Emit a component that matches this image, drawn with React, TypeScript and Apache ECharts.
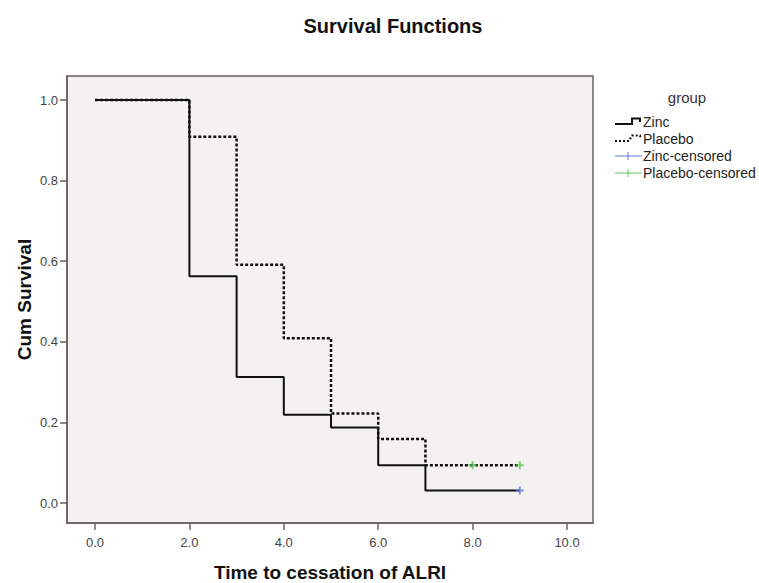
import React, { useEffect, useRef } from 'react';
import * as echarts from 'echarts';

const zincTimes = [0, 2, 3, 4, 5, 6, 7, 9];
const zincSurvival = [1.0, 0.5625, 0.3125, 0.219, 0.1875, 0.094, 0.031, 0.031];
const placeboTimes = [0, 2, 3, 4, 5, 6, 7, 9];
const placeboSurvival = [1.0, 0.909, 0.591, 0.409, 0.222, 0.159, 0.094, 0.094];
const zincCensoredTimes = [9];
const zincCensoredSurvival = [0.031];
const placeboCensoredTimes = [8, 9];
const placeboCensoredSurvival = [0.094, 0.094];
const xTicks = [0, 2, 4, 6, 8, 10];
const yTicks = [0, 0.2, 0.4, 0.6, 0.8, 1.0];
const legendTitle = 'group';
const legendNames = ['Zinc', 'Placebo', 'Zinc-censored', 'Placebo-censored'];

const FONT = 'Arial, "Liberation Sans", Helvetica, sans-serif';
const FRAME = '#67615c';
const ZINC_CENS_COLOR = '#6a78d6';
const PLAC_CENS_COLOR = '#5cc45c';

export default function App() {
  const ref = useRef<HTMLDivElement>(null);
  useEffect(() => {
    document.body.style.margin = '0';
    if (!ref.current) return;
    const chart = echarts.init(ref.current, null, { renderer: 'svg' });
    const pair = (xs: number[], ys: number[]) => xs.map((x, i) => [x, ys[i]]);
    const plus = 'path://M3,0h2v8h-2zM0,3h8v2h-8z';
    const lx = 615;
    const legendRows = [122, 139, 156, 173];
    chart.setOption({
      animation: false,
      backgroundColor: '#ffffff',
      title: {
        text: 'Survival Functions',
        left: 388,
        top: 11,
        textAlign: 'center',
        textStyle: { fontSize: 20, fontWeight: 'bold', color: '#111', fontFamily: FONT },
      },
      grid: {
        left: 67,
        top: 76,
        width: 526,
        height: 447,
        containLabel: false,
        outerBoundsMode: 'none',
        show: true,
        backgroundColor: '#f3f2f0',
        borderColor: FRAME,
        borderWidth: 1.5,
      },
      xAxis: {
        type: 'value',
        min: -0.593,
        max: 10.55,
        axisLine: { show: true, onZero: false, lineStyle: { color: FRAME, width: 1.5 } },
        axisTick: { show: true, length: 7, customValues: xTicks, lineStyle: { color: FRAME, width: 1.5 } },
        axisLabel: {
          customValues: xTicks,
          formatter: (v: number) => v.toFixed(1),
          margin: 13,
          fontSize: 13,
          color: '#444',
          fontFamily: FONT,
        },
        splitLine: { show: false },
        name: 'Time to cessation of ALRI',
        nameLocation: 'middle',
        nameMoveOverlap: false,
        nameGap: 40,
        nameTextStyle: { fontSize: 19, fontWeight: 'bold', color: '#111', fontFamily: FONT },
      },
      yAxis: {
        type: 'value',
        min: -0.0496,
        max: 1.0596,
        axisLine: { show: true, onZero: false, lineStyle: { color: FRAME, width: 1.5 } },
        axisTick: { show: true, length: 7, customValues: yTicks, lineStyle: { color: FRAME, width: 1.5 } },
        axisLabel: {
          customValues: yTicks,
          formatter: (v: number) => v.toFixed(1),
          margin: 9,
          fontSize: 13,
          color: '#444',
          fontFamily: FONT,
        },
        splitLine: { show: false },
        name: 'Cum Survival',
        nameLocation: 'middle',
        nameMoveOverlap: false,
        nameGap: 33,
        nameTextStyle: { fontSize: 19, fontWeight: 'bold', color: '#111', fontFamily: FONT },
      },
      series: [
        {
          name: legendNames[0],
          type: 'line',
          step: 'end',
          data: pair(zincTimes, zincSurvival),
          showSymbol: false,
          lineStyle: { color: '#111', width: 2 },
          itemStyle: { color: '#111' },
          z: 3,
        },
        {
          name: legendNames[1],
          type: 'line',
          step: 'end',
          data: pair(placeboTimes, placeboSurvival),
          showSymbol: false,
          lineStyle: { color: '#111', width: 2.5, type: [3, 2] },
          itemStyle: { color: '#111' },
          z: 4,
        },
        {
          name: legendNames[2],
          type: 'scatter',
          data: pair(zincCensoredTimes, zincCensoredSurvival),
          symbol: plus,
          symbolSize: 8,
          itemStyle: { color: ZINC_CENS_COLOR },
          z: 5,
        },
        {
          name: legendNames[3],
          type: 'scatter',
          data: pair(placeboCensoredTimes, placeboCensoredSurvival),
          symbol: plus,
          symbolSize: 8,
          itemStyle: { color: PLAC_CENS_COLOR },
          z: 5,
        },
      ],
      graphic: [
        {
          type: 'text',
          style: {
            text: legendTitle, x: 687, y: 97, textAlign: 'center', textVerticalAlign: 'middle',
            align: 'center', verticalAlign: 'middle', fontSize: 15, fontFamily: FONT, fill: '#333',
          },
        },
        {
          type: 'polyline',
          shape: { points: [[lx, legendRows[0] + 2], [lx + 17, legendRows[0] + 2], [lx + 17, legendRows[0] - 3.5], [lx + 25, legendRows[0] - 3.5], [lx + 25, legendRows[0]]] },
          style: { stroke: '#111', lineWidth: 2, fill: null },
        },
        {
          type: 'polyline',
          shape: { points: [[lx, legendRows[1] + 2], [lx + 14, legendRows[1] + 2], [lx + 17, legendRows[1] - 3.5], [lx + 25, legendRows[1] - 3.5], [lx + 26, legendRows[1]]] },
          style: { stroke: '#111', lineWidth: 2, fill: null, lineDash: [2, 2] },
        },
        { type: 'line', shape: { x1: lx, y1: legendRows[2], x2: lx + 27, y2: legendRows[2] }, style: { stroke: ZINC_CENS_COLOR, lineWidth: 1 } },
        { type: 'line', shape: { x1: lx + 13, y1: legendRows[2] - 4, x2: lx + 13, y2: legendRows[2] + 4 }, style: { stroke: ZINC_CENS_COLOR, lineWidth: 1 } },
        { type: 'line', shape: { x1: lx, y1: legendRows[3], x2: lx + 27, y2: legendRows[3] }, style: { stroke: PLAC_CENS_COLOR, lineWidth: 1 } },
        { type: 'line', shape: { x1: lx + 13, y1: legendRows[3] - 4, x2: lx + 13, y2: legendRows[3] + 4 }, style: { stroke: PLAC_CENS_COLOR, lineWidth: 1 } },
        ...legendNames.map((name, i) => ({
          type: 'text',
          style: {
            text: name, x: 643, y: legendRows[i], textAlign: 'left', textVerticalAlign: 'middle',
            align: 'left', verticalAlign: 'middle', fontSize: 14, fontFamily: FONT, fill: '#222',
          },
        })),
      ],
    });
    return () => chart.dispose();
  }, []);
  return <div ref={ref} style={{ width: 759, height: 583 }} />;
}
